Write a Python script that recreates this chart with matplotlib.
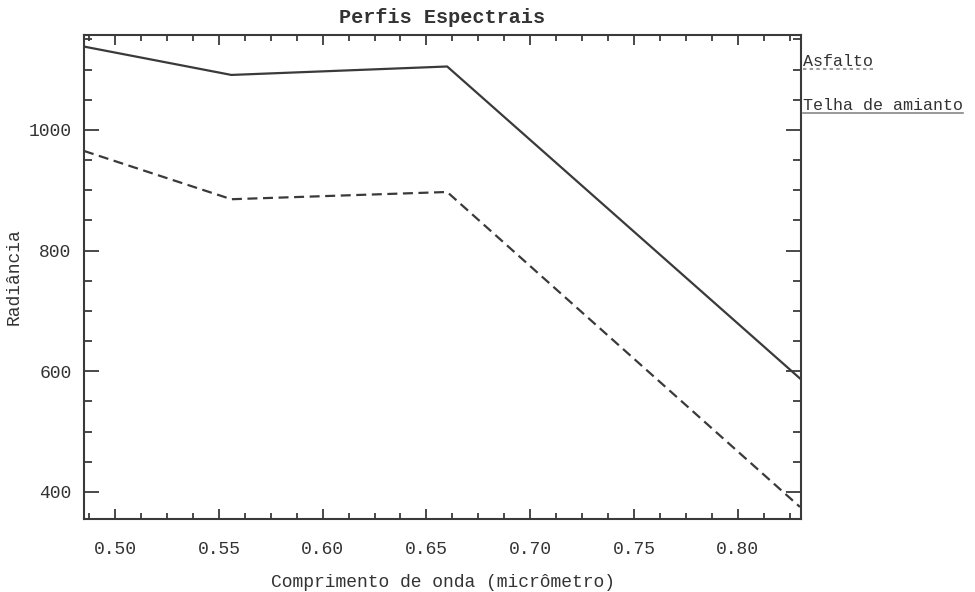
import matplotlib
matplotlib.use("Agg")
import matplotlib.pyplot as plt
from matplotlib.ticker import MultipleLocator
from matplotlib.lines import Line2D

# --- data (ENVI style spectral profile) ---
wavelengths = [0.485, 0.556, 0.660, 0.830]
telha_amianto = [1138, 1091, 1105, 588]
asfalto = [965, 885, 897, 375]
series_names = ["Asfalto", "Telha de amianto"]

LINE_COLOR = "#3a3a3a"
TEXT_COLOR = "#333333"
FONT = "Liberation Mono"

plt.rcParams['font.family'] = [FONT, 'DejaVu Sans']

fig = plt.figure(figsize=(9.75, 5.92), dpi=100)
ax = fig.add_axes([0.0862, 0.1233, 0.7353, 0.8184])

ax.plot(wavelengths, telha_amianto, color=LINE_COLOR, linewidth=1.6, linestyle='-')
ax.plot(wavelengths, asfalto, color=LINE_COLOR, linewidth=1.6, linestyle=(0, (4.5, 2.5)))

ax.set_xlim(0.485, 0.8305)
ax.set_ylim(355, 1158)

ax.xaxis.set_major_locator(MultipleLocator(0.05))
ax.xaxis.set_minor_locator(MultipleLocator(0.0125))
ax.yaxis.set_major_locator(MultipleLocator(200))
ax.yaxis.set_minor_locator(MultipleLocator(50))
ax.xaxis.set_major_formatter(lambda v, p: f"{v:.2f}")
ax.yaxis.set_major_formatter(lambda v, p: f"{v:.0f}")

for s in ax.spines.values():
    s.set_linewidth(1.5)
    s.set_color(LINE_COLOR)

ax.tick_params(axis='both', which='both', direction='in', top=True, right=True,
               color=LINE_COLOR, width=1.3, labelcolor=TEXT_COLOR, labelsize=13)
ax.tick_params(axis='x', which='major', length=7.2, pad=16)
ax.tick_params(axis='x', which='minor', length=4.3)
ax.tick_params(axis='y', which='major', length=10.8, pad=9)
ax.tick_params(axis='y', which='minor', length=5.8)

ax.set_title("Perfis Espectrais", fontsize=14.5, fontweight='bold', color=TEXT_COLOR, pad=8)
ax.set_xlabel("Comprimento de onda (micrômetro)", fontsize=13, color=TEXT_COLOR, labelpad=11)
ax.set_ylabel("Radiância", fontsize=13, color=TEXT_COLOR, labelpad=4)

# legend ENVI style: name on the right of the plot, underlined with its line style
legend_styles = [(0, (2, 2)), '-']
legend_y = [0.929, 0.839]
fig.canvas.draw()
renderer = fig.canvas.get_renderer()
for name, ls, yy in zip(series_names, legend_styles, legend_y):
    t = ax.text(1.003, yy, name, transform=ax.transAxes, fontsize=12,
                color=TEXT_COLOR, ha='left', va='bottom', clip_on=False)
    bb = t.get_window_extent(renderer).transformed(fig.transFigure.inverted())
    fig.add_artist(Line2D([bb.x0, bb.x1], [bb.y0, bb.y0], color='#888888',
                         linewidth=1.2, linestyle=ls))

fig.savefig("out.png", dpi=100)
